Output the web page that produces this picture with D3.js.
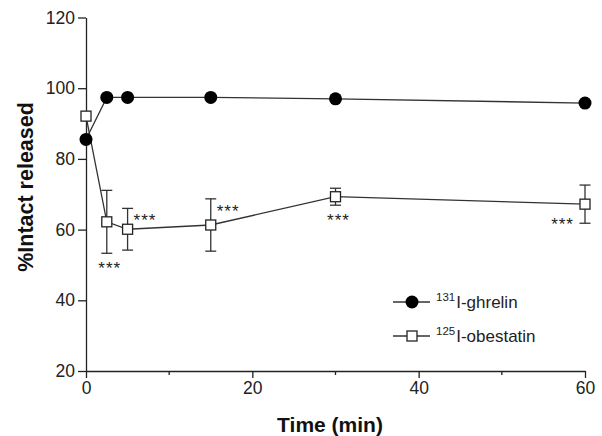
<!DOCTYPE html>
<html>
<head>
<meta charset="utf-8">
<script src="https://cdn.jsdelivr.net/npm/d3@7"></script>
<style>
  body { margin: 0; background: #fff; }
  svg { font-family: "Liberation Sans", Arial, sans-serif; }
</style>
</head>
<body>
<svg id="chart"></svg>
<script>
const width = 602, height = 436;
const margin = { top: 17.5, right: 17, bottom: 65, left: 86 };

// Data
const times = [0, 2.5, 5, 15, 30, 60];
const ghrelin = [85.5, 97.4, 97.4, 97.4, 97.0, 95.8];
const obestatin = [92.1, 62.2, 60.1, 61.3, 69.3, 67.2];
const obestatinErr = [0, 8.9, 5.9, 7.4, 2.4, 5.4];
const stars = ["", "below", "rightTop", "rightTop", "below", "leftBottom"];
const xTicks = [0, 20, 40, 60];
const xMinor = [10, 30, 50];
const yTicks = [20, 40, 60, 80, 100, 120];

const svg = d3.select("#chart")
    .attr("width", width)
    .attr("height", height);

const x = d3.scaleLinear().domain([0, 60]).range([margin.left, width - margin.right]);
const y = d3.scaleLinear().domain([20, 120]).range([height - margin.bottom, margin.top]);

// Axes
const xAxis = svg.append("g")
    .attr("transform", `translate(0,${y(20)})`)
    .call(d3.axisBottom(x).tickValues(xTicks).tickSize(7).tickPadding(4).tickSizeOuter(0));
xAxis.selectAll(".tick line").attr("stroke", "#222").attr("stroke-width", 1.3);
xAxis.select(".domain").attr("stroke", "#222").attr("stroke-width", 1.3);
xAxis.selectAll("text").attr("font-size", 17.5).attr("fill", "#222");

svg.append("g")
    .selectAll("line")
    .data(xMinor)
    .join("line")
    .attr("x1", d => x(d)).attr("x2", d => x(d))
    .attr("y1", y(20)).attr("y2", y(20) + 4)
    .attr("stroke", "#222").attr("stroke-width", 1.3);

const yAxis = svg.append("g")
    .attr("transform", `translate(${x(0)},0)`)
    .call(d3.axisLeft(y).tickValues(yTicks).tickSize(8).tickPadding(3).tickSizeOuter(0));
yAxis.selectAll(".tick line").attr("stroke", "#222").attr("stroke-width", 1.3);
yAxis.select(".domain").attr("stroke", "#222").attr("stroke-width", 1.3);
yAxis.selectAll("text").attr("font-size", 17.5).attr("fill", "#222");

// Axis titles
svg.append("text")
    .attr("x", 330)
    .attr("y", 432)
    .attr("text-anchor", "middle")
    .attr("font-size", 21)
    .attr("font-weight", "bold")
    .attr("fill", "#111")
    .text("Time (min)");

svg.append("text")
    .attr("transform", `translate(33,187) rotate(-90)`)
    .attr("text-anchor", "middle")
    .attr("font-size", 21.5)
    .attr("font-weight", "bold")
    .attr("fill", "#111")
    .text("%Intact released");

const line = d3.line().x(d => x(d[0])).y(d => y(d[1]));
const obData = times.map((t, i) => [t, obestatin[i], obestatinErr[i], stars[i]]);
const ghData = times.map((t, i) => [t, ghrelin[i]]);
const sq = 10, cap = 5.5;

// Obestatin error bars
const eb = svg.append("g").attr("stroke", "#333").attr("stroke-width", 1.3);
obData.filter(d => d[2] > 0).forEach(d => {
    const cx = x(d[0]);
    eb.append("line").attr("x1", cx).attr("x2", cx).attr("y1", y(d[1] + d[2])).attr("y2", y(d[1] - d[2]));
    eb.append("line").attr("x1", cx - cap).attr("x2", cx + cap).attr("y1", y(d[1] + d[2])).attr("y2", y(d[1] + d[2]));
    eb.append("line").attr("x1", cx - cap).attr("x2", cx + cap).attr("y1", y(d[1] - d[2])).attr("y2", y(d[1] - d[2]));
});

// Obestatin line and squares
svg.append("path").datum(obData).attr("d", line)
    .attr("fill", "none").attr("stroke", "#333").attr("stroke-width", 1.3);
svg.append("g").selectAll("rect").data(obData).join("rect")
    .attr("x", d => x(d[0]) - sq / 2).attr("y", d => y(d[1]) - sq / 2)
    .attr("width", sq).attr("height", sq)
    .attr("fill", "#fff").attr("stroke", "#222").attr("stroke-width", 1.3);

// Significance stars
svg.append("g").selectAll("text").data(obData.filter(d => d[3])).join("text")
    .attr("x", d => {
        const cx = x(d[0]);
        if (d[3] === "below") return cx + 3;
        if (d[3] === "rightTop") return cx + 6;
        return cx - 11;
    })
    .attr("y", d => {
        if (d[3] === "below") return y(d[1] - d[2]) + 21;
        if (d[3] === "rightTop") return y(d[1] + d[2]) + 18;
        return y(d[1] - d[2]) + 7;
    })
    .attr("text-anchor", d => d[3] === "below" ? "middle" : d[3] === "rightTop" ? "start" : "end")
    .attr("font-size", 17)
    .attr("fill", "#222")
    .attr("letter-spacing", 1)
    .text("***");

// Ghrelin line and circles
svg.append("path").datum(ghData).attr("d", line)
    .attr("fill", "none").attr("stroke", "#333").attr("stroke-width", 1.3);
svg.append("g").selectAll("circle").data(ghData).join("circle")
    .attr("cx", d => x(d[0])).attr("cy", d => y(d[1])).attr("r", 6.5)
    .attr("fill", "#000");

// Legend
const legend = [
    { iso: "131", name: "I-ghrelin", shape: "circle", ly: 302 },
    { iso: "125", name: "I-obestatin", shape: "square", ly: 336 }
];
const lg = svg.append("g");
legend.forEach(l => {
    lg.append("line").attr("x1", 393).attr("x2", 430).attr("y1", l.ly).attr("y2", l.ly)
        .attr("stroke", "#333").attr("stroke-width", 1.3);
    if (l.shape === "circle") {
        lg.append("circle").attr("cx", 412).attr("cy", l.ly).attr("r", 6.5).attr("fill", "#000");
    } else {
        lg.append("rect").attr("x", 412 - sq / 2).attr("y", l.ly - sq / 2).attr("width", sq).attr("height", sq)
            .attr("fill", "#fff").attr("stroke", "#222").attr("stroke-width", 1.3);
    }
    const t = lg.append("text").attr("x", 436).attr("y", l.ly + 6).attr("font-size", 17).attr("fill", "#222");
    t.append("tspan").attr("font-size", 11.5).attr("dy", -7).text(l.iso);
    t.append("tspan").attr("dy", 7).attr("dx", 1).text(l.name);
});
</script>
</body>
</html>
